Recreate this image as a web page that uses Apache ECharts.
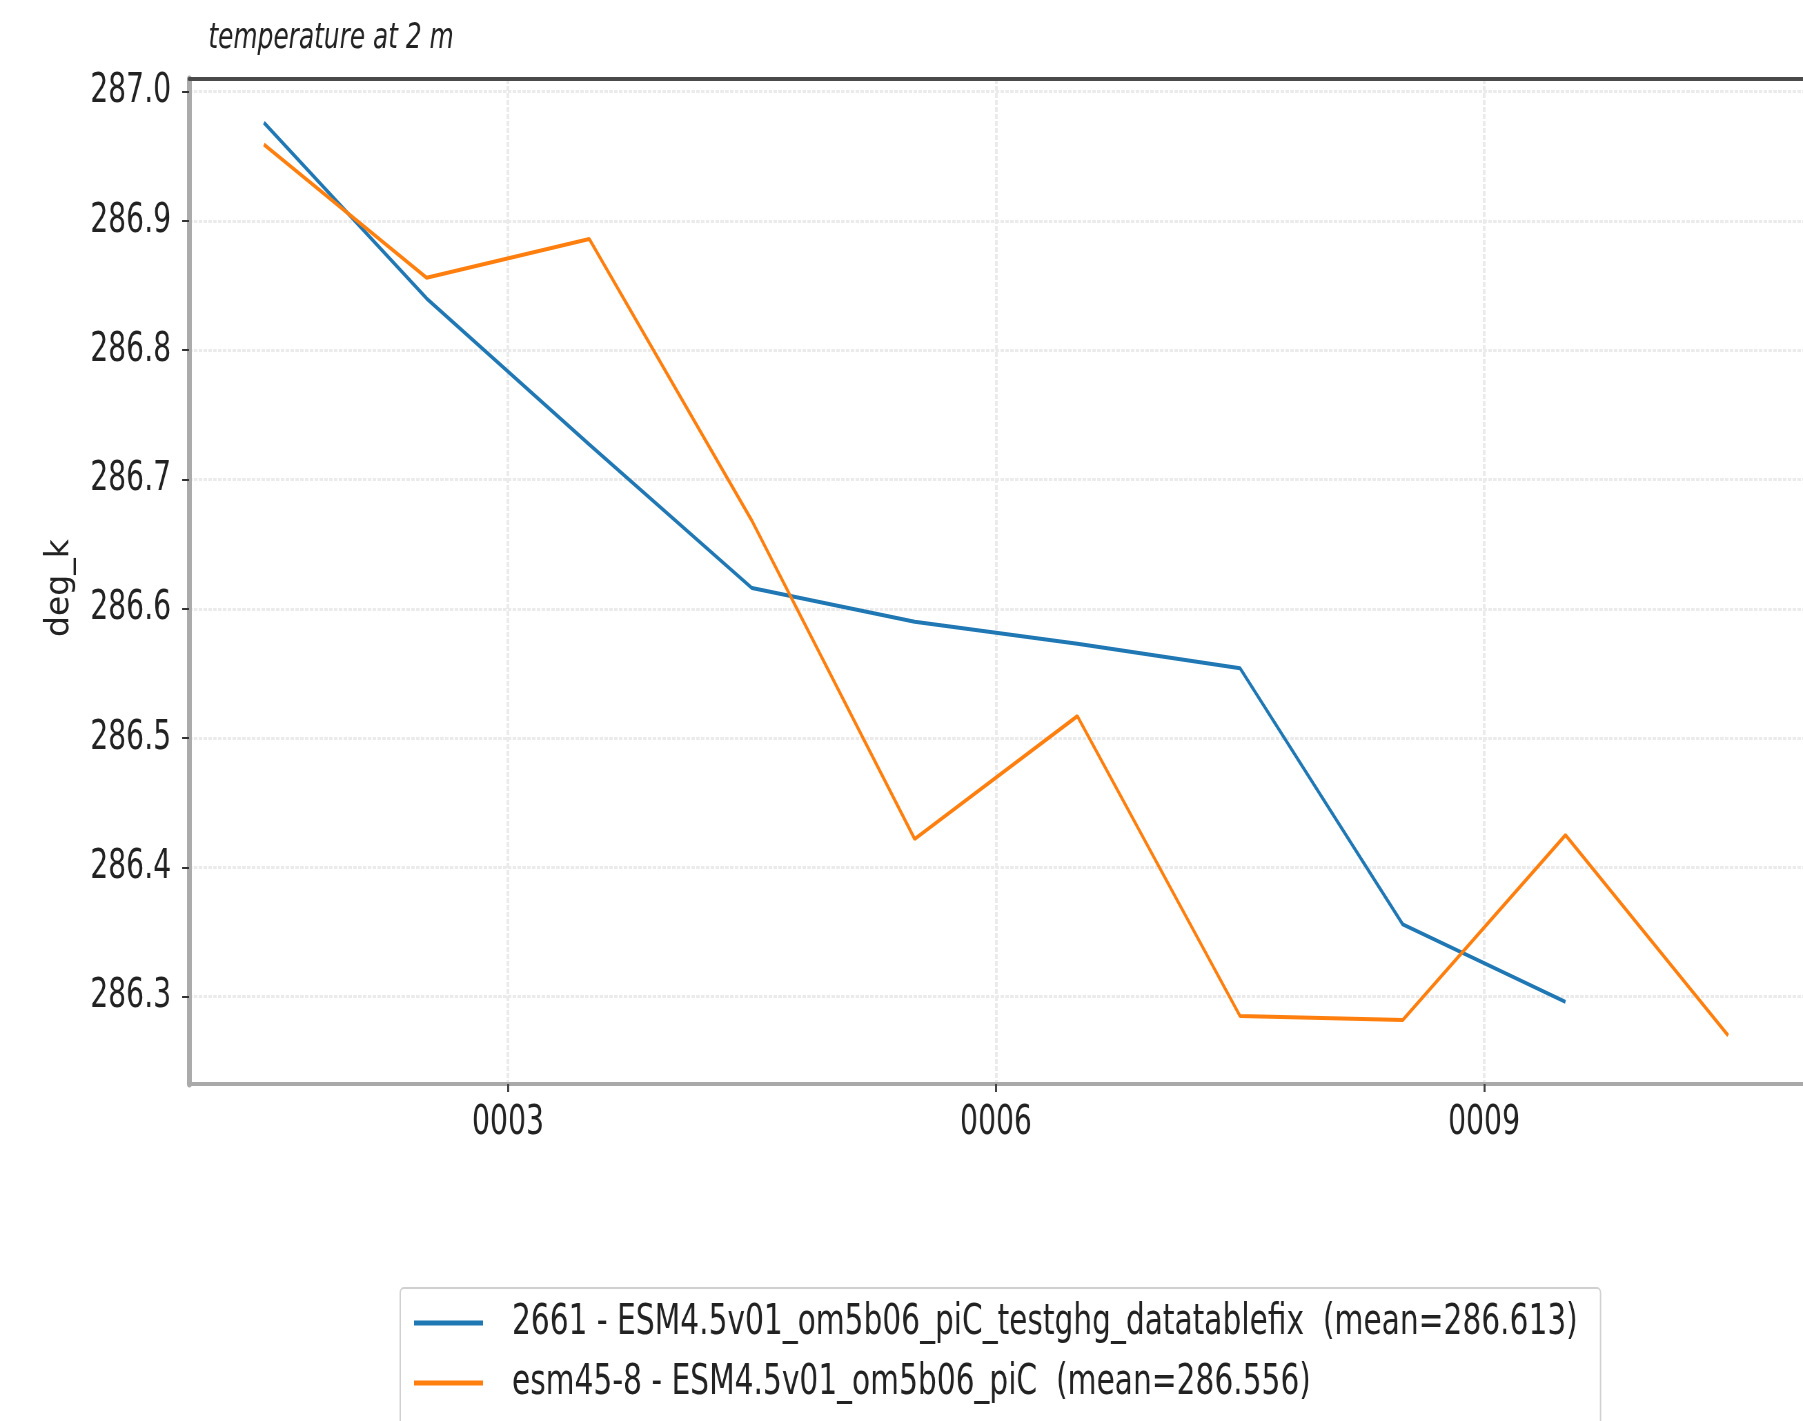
<!DOCTYPE html>
<html>
<head>
<meta charset="utf-8">
<title>temperature at 2 m</title>
<script src="https://cdn.jsdelivr.net/npm/echarts@6/dist/echarts.min.js"></script>
<style>
  html, body { margin: 0; padding: 0; background: #ffffff; overflow: hidden; }
  /* The figure is laid out wide and then compressed horizontally,
     which gives the narrow lettering of the original plot. */
  #frame { width: 1803px; height: 1421px; overflow: hidden; }
  #chart { width: 2613px; height: 1421px; transform: scaleX(0.69); transform-origin: 0 0; }
</style>
</head>
<body>
<div id="frame"><div id="chart"></div></div>
<script>
// Annual means, plotted at mid-year (model years 0001..0010)
const years = [1.5, 2.5, 3.5, 4.5, 5.5, 6.5, 7.5, 8.5, 9.5, 10.5];

const runNames = [
  '2661 - ESM4.5v01_om5b06_piC_testghg_datatablefix  (mean=286.613)',
  'esm45-8 - ESM4.5v01_om5b06_piC  (mean=286.556)'
];

// 2 m air temperature, deg_k
const tas2661 = [286.976, 286.840, 286.727, 286.616, 286.590, 286.573, 286.554, 286.356, 286.296];
const tasEsm45 = [286.959, 286.856, 286.886, 286.668, 286.422, 286.517, 286.285, 286.282, 286.425, 286.270];

const yTicks = [286.3, 286.4, 286.5, 286.6, 286.7, 286.8, 286.9, 287.0];
const xTicks = [3, 6, 9];

const SQUEEZE = 0.69;              // horizontal compression applied to #chart
const FONT = '"DejaVu Sans", sans-serif';
const TEXT = '#222222';

const pairs = (vals) => vals.map((v, i) => [years[i], v]);

const chart = echarts.init(document.getElementById('chart'), null, { renderer: 'canvas' });

chart.setOption({
  animation: false,
  backgroundColor: '#ffffff',
  title: {
    text: 'temperature at 2 m',
    left: 297,
    top: 16,
    textStyle: { fontSize: 36, fontStyle: 'italic', fontWeight: 'normal', color: TEXT, fontFamily: FONT }
  },
  grid: { left: 274, right: -10, top: 79, bottom: 337 },
  xAxis: [
    {
      type: 'value',
      position: 'bottom',
      min: 1.04,
      max: 10.96,
      axisLine: { show: true, onZero: false, lineStyle: { color: '#a9a9a9', width: 4 } },
      axisTick: { show: true, customValues: xTicks, length: 8, lineStyle: { color: '#444444', width: 3 } },
      axisLabel: {
        customValues: xTicks,
        formatter: (v) => String(Math.round(v)).padStart(4, '0'),
        margin: 19,
        fontSize: 41,
        color: TEXT,
        fontFamily: FONT
      },
      splitLine: { show: true, lineStyle: { color: '#ebebeb', width: 4, type: [5, 2] } }
    },
    {
      type: 'value',
      position: 'top',
      min: 1.04,
      max: 10.96,
      axisLine: { show: true, onZero: false, lineStyle: { color: '#4a4a4a', width: 4 } },
      axisTick: { show: false },
      axisLabel: { show: false },
      splitLine: { show: false }
    }
  ],
  yAxis: {
    type: 'value',
    min: 286.2325,
    max: 287.0097,
    axisLine: { show: true, onZero: false, lineStyle: { color: '#ababab', width: 7 } },
    axisTick: { show: true, customValues: yTicks, length: 10, lineStyle: { color: '#333333', width: 2 } },
    axisLabel: {
      customValues: yTicks,
      formatter: (v) => v.toFixed(1),
      margin: 26,
      fontSize: 41,
      color: TEXT,
      fontFamily: FONT
    },
    splitLine: { show: true, lineStyle: { color: '#ebebeb', width: 3, type: [5, 2] } }
  },
  graphic: [
    {
      // y-axis title; widened across its thickness to cancel the page compression
      type: 'text',
      x: 87,
      y: 588,
      rotation: Math.PI / 2,
      scaleY: 1 / SQUEEZE,
      style: {
        text: 'deg_k',
        fontSize: 33,
        fontFamily: FONT,
        fill: TEXT,
        align: 'center',
        verticalAlign: 'middle'
      }
    }
  ],
  legend: {
    orient: 'vertical',
    left: 580,
    top: 1288,
    height: 170,
    padding: [12, 33, 30, 20],
    itemWidth: 100,
    itemHeight: 5,
    itemGap: 14,
    icon: 'rect',
    borderColor: '#d0d0d0',
    borderWidth: 2,
    borderRadius: 5,
    backgroundColor: '#ffffff',
    textStyle: { fontSize: 43, lineHeight: 46, color: TEXT, fontFamily: FONT, padding: [0, 0, 0, 37] },
    data: runNames
  },
  series: [
    {
      name: runNames[0],
      type: 'line',
      data: pairs(tas2661),
      symbol: 'none',
      color: '#1f77b4',
      lineStyle: { width: 4, color: '#1f77b4' }
    },
    {
      name: runNames[1],
      type: 'line',
      data: pairs(tasEsm45),
      symbol: 'none',
      color: '#ff7f0e',
      lineStyle: { width: 4, color: '#ff7f0e' }
    }
  ]
});
</script>
</body>
</html>
